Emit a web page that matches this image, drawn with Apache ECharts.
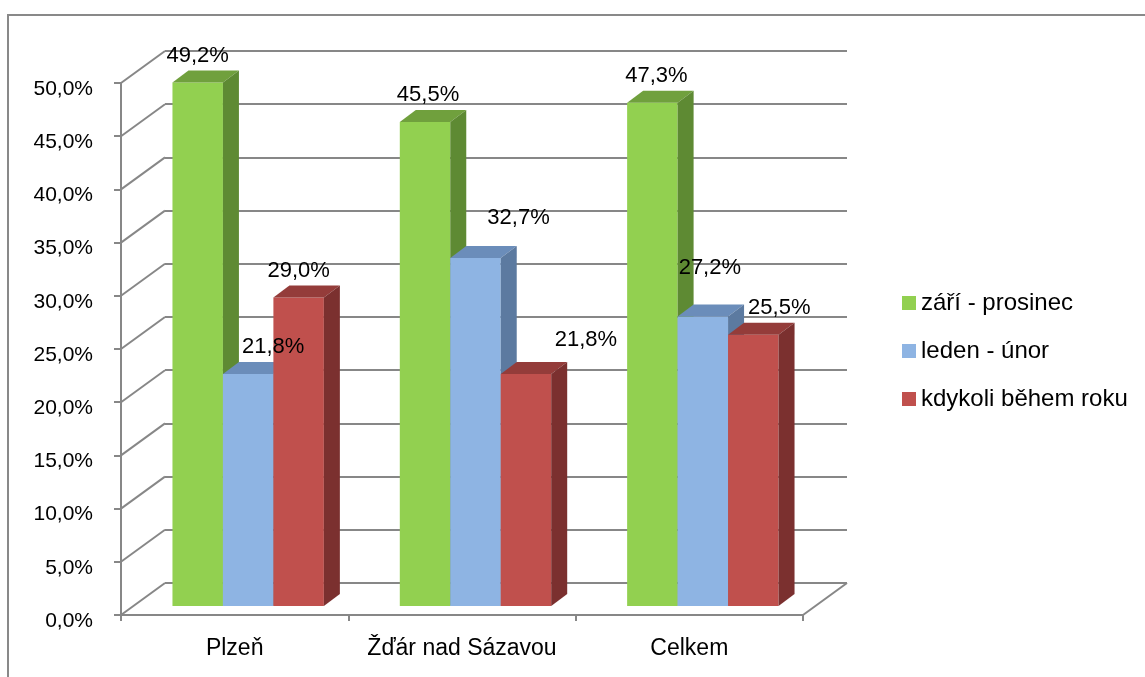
<!DOCTYPE html>
<html>
<head>
<meta charset="utf-8">
<script src="https://cdn.jsdelivr.net/npm/echarts@6/dist/echarts.min.js"></script>
<style>
  html, body { margin: 0; padding: 0; background: #fff; }
  #chart { width: 1145px; height: 677px; }
</style>
</head>
<body>
<div id="chart"></div>
<script>
// Categories and values (percent)
const categories = ['Plzeň', 'Žďár nad Sázavou', 'Celkem'];
const seriesNames = ['září - prosinec', 'leden - únor', 'kdykoli během roku'];
const zariProsinec = [49.2, 45.5, 47.3];
const ledenUnor = [21.8, 32.7, 27.2];
const kdykoliBehemRoku = [29.0, 21.8, 25.5];
const yTicks = [0, 5, 10, 15, 20, 25, 30, 35, 40, 45, 50];

// Face colours per series: front, top, side
const faceColors = [
  { front: '#92D050', top: '#70A03D', side: '#5E8A33' },
  { front: '#8EB4E3', top: '#6B8DBA', side: '#5C7AA0' },
  { front: '#C0504D', top: '#943C3A', side: '#7B302F' }
];

// 3D projection constants (pixels)
const WALL_DX = 44, WALL_DY = -32;     // full depth of the wall/floor
const PLANE_DX = 13.5, PLANE_DY = -9;  // front plane of the bars
const BAR_DX = 16, BAR_DY = -12;       // bar depth
const BAR_FRAC = 0.222;                // bar width as share of category band
const LINE = '#878787';
const FONT = 'Liberation Sans';

// Label nudges [series][category] in pixels, to keep labels apart
const labelNudge = [
  [[0, 0], [3, 0], [4, 0]],
  [[25, 0], [43, -13], [7, -22]],
  [[0, 0], [60, -7], [26, 0]]
];

const fmt = v => v.toFixed(1).replace('.', ',') + '%';

// Front-face geometry of one bar in pixel space
function barBox(seriesIdx, params, api) {
  const cat = api.value(0);
  const v = api.value(1);
  const base = api.coord([cat, 0]);
  const topPt = api.coord([cat, v]);
  const band = api.size([1, 0])[0];
  const bw = band * BAR_FRAC;
  const x0 = base[0] - 1.5 * bw + seriesIdx * bw + PLANE_DX;
  return { v, x0, bw, yb: base[1] + PLANE_DY, yt: topPt[1] + PLANE_DY };
}

function barRenderer(seriesIdx) {
  return function (params, api) {
    const { x0, bw, yb, yt } = barBox(seriesIdx, params, api);
    const c = faceColors[seriesIdx];
    return {
      type: 'group',
      children: [
        { type: 'rect', shape: { x: x0, y: yt, width: bw, height: yb - yt },
          style: { fill: c.front } },
        { type: 'polygon', shape: { points: [[x0, yt], [x0 + bw, yt], [x0 + bw + BAR_DX, yt + BAR_DY], [x0 + BAR_DX, yt + BAR_DY]] },
          style: { fill: c.top } },
        { type: 'polygon', shape: { points: [[x0 + bw, yt], [x0 + bw + BAR_DX, yt + BAR_DY], [x0 + bw + BAR_DX, yb + BAR_DY], [x0 + bw, yb]] },
          style: { fill: c.side } }
      ]
    };
  };
}

function labelRenderer(seriesIdx) {
  return function (params, api) {
    const { v, x0, bw, yt } = barBox(seriesIdx, params, api);
    const nudge = labelNudge[seriesIdx][params.dataIndex];
    return {
      type: 'text',
      style: { x: x0 + bw / 2 + nudge[0], y: yt - 27 + nudge[1], text: fmt(v),
               fill: '#000', font: '22px "' + FONT + '"', align: 'center', verticalAlign: 'middle' }
    };
  };
}

// Left wall diagonals and the right floor edge
function wallRenderer(params, api) {
  const v = api.value(1);
  const p = api.coord([0, v]);
  const cs = params.coordSys;
  const x = cs.x;
  const children = [
    { type: 'line', shape: { x1: x, y1: p[1], x2: x + WALL_DX, y2: p[1] + WALL_DY },
      style: { stroke: LINE, lineWidth: 2 } }
  ];
  if (v === 0) {
    const xr = cs.x + cs.width;
    children.push({ type: 'line', shape: { x1: xr, y1: p[1], x2: xr + WALL_DX, y2: p[1] + WALL_DY },
      style: { stroke: LINE, lineWidth: 2 } });
  }
  return { type: 'group', children };
}

const chart = echarts.init(document.getElementById('chart'), null, { renderer: 'canvas' });

const allValues = [zariProsinec, ledenUnor, kdykoliBehemRoku];

const option = {
  backgroundColor: '#fff',
  animation: false,
  textStyle: { fontFamily: FONT },
  graphic: [
    { type: 'rect', shape: { x: 8, y: 15, width: 1160, height: 700 },
      style: { fill: 'none', stroke: '#898989', lineWidth: 2 }, z: -10 }
  ],
  legend: {
    orient: 'vertical',
    left: 897,
    top: 286,
    itemWidth: 14,
    itemHeight: 14,
    itemGap: 24,
    icon: 'rect',
    textStyle: { fontSize: 24, color: '#000', fontFamily: FONT },
    data: seriesNames
  },
  grid: [
    { left: 121, right: 342, top: 83, bottom: 62 },   // front plane
    { left: 165, right: 298, top: 51, bottom: 94 },   // back wall
    { left: 121, right: 342, top: 89, bottom: 56 }    // value labels, set slightly low
  ],
  xAxis: [
    { gridIndex: 0, type: 'category', data: categories,
      axisLine: { show: true, lineStyle: { color: LINE, width: 2 } },
      axisTick: { show: true, interval: 0, length: 6, lineStyle: { color: LINE, width: 2 } },
      axisLabel: { interval: 0, fontSize: 23, color: '#000', margin: 22, fontFamily: FONT },
      splitLine: { show: false } },
    { gridIndex: 1, type: 'category', data: categories, show: false },
    { gridIndex: 2, type: 'category', data: categories, show: false }
  ],
  yAxis: [
    { gridIndex: 0, type: 'value', min: 0, max: 50, interval: 5,
      axisLine: { show: true, lineStyle: { color: LINE, width: 2 } },
      axisTick: { show: true, length: 7, lineStyle: { color: LINE, width: 2 } },
      axisLabel: { show: false },
      splitLine: { show: false } },
    { gridIndex: 1, type: 'value', min: 0, max: 50, interval: 5,
      axisLine: { show: false }, axisTick: { show: false }, axisLabel: { show: false },
      splitLine: { show: true, lineStyle: { color: LINE, width: 2 } } },
    { gridIndex: 2, type: 'value', min: 0, max: 50, interval: 5,
      axisLine: { show: false }, axisTick: { show: false }, splitLine: { show: false },
      axisLabel: { fontSize: 21, color: '#000', margin: 28, fontFamily: FONT, formatter: v => fmt(v) } }
  ],
  series: [
    { type: 'custom', name: 'walls', xAxisIndex: 0, yAxisIndex: 0, silent: true, z: 1,
      renderItem: wallRenderer,
      data: yTicks.map(t => [0, t]) },
    ...seriesNames.map((name, i) => ({
      type: 'custom', name, xAxisIndex: 0, yAxisIndex: 0, z: 5 + i,
      itemStyle: { color: faceColors[i].front },
      renderItem: barRenderer(i),
      data: allValues[i].map((v, j) => [j, v])
    })),
    ...seriesNames.map((name, i) => ({
      type: 'custom', name: name + ' (popisky)', xAxisIndex: 0, yAxisIndex: 0, z: 20, silent: true,
      renderItem: labelRenderer(i),
      data: allValues[i].map((v, j) => [j, v])
    }))
  ]
};

chart.setOption(option);
</script>
</body>
</html>
